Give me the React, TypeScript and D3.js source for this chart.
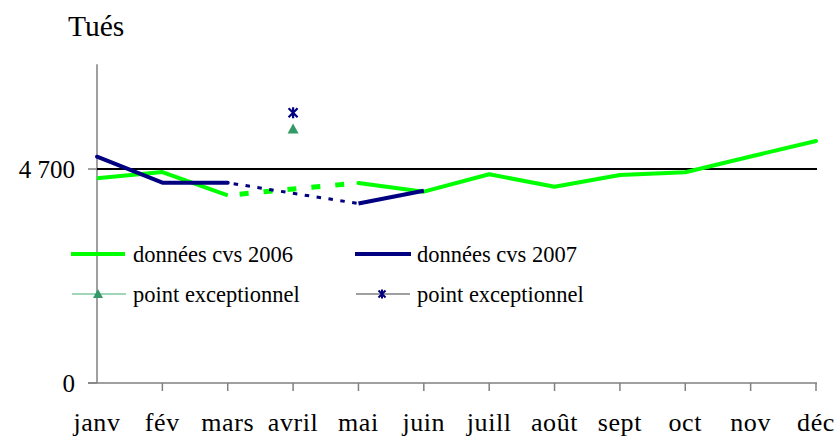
import React from "react";
import * as d3 from "d3";

const months = ["janv", "fév", "mars", "avril", "mai", "juin", "juill", "août", "sept", "oct", "nov", "déc"];
const serie2006 = [4496, 4634, 4123, 4261, 4393, 4202, 4584, 4311, 4568, 4628, 4975, 5315];
const serie2007 = [4970, 4399, 4399, 4166, 3942, 4224];
const dashedIdx = [2, 3, 4]; // mars -> mai in dashed
const exceptTriangle = { month: "avril", value: 5578 };
const exceptStar = { month: "avril", value: 5936 };
const yTicks = [0, 4700];
const refValue = 4700;

const W = 837, H = 437;
const FONT = "Liberation Serif, Times New Roman, serif";

export default function App() {
  const x = d3.scalePoint<string>().domain(months).range([97, 816]);
  const y = d3.scaleLinear().domain([0, 7000]).range([383, 64.3]);

  const line = d3.line<[string, number]>().x((d) => x(d[0])!).y((d) => y(d[1]));

  const g06 = serie2006.map((v, i) => [months[i], v] as [string, number]);
  const g07 = serie2007.map((v, i) => [months[i], v] as [string, number]);

  const solid06a = g06.slice(0, 3);
  const dash06 = g06.slice(dashedIdx[0], dashedIdx[2] + 1);
  const solid06b = g06.slice(4);
  const solid07a = g07.slice(0, 3);
  const dash07 = g07.slice(dashedIdx[0], dashedIdx[2] + 1);
  const solid07b = g07.slice(4);

  const green = "#00ff00";
  const navy = "#000080";
  const triColor = "#339966";
  const axisColor = "#808080";

  const star = (cx: number, cy: number, s = 4.5) =>
    `M${cx - s},${cy - s}L${cx + s},${cy + s}M${cx - s},${cy + s}L${cx + s},${cy - s}M${cx},${cy - s - 1}L${cx},${cy + s + 1}`;
  const tri = (cx: number, cy: number, s = 5.5) =>
    `M${cx},${cy - s}L${cx + s},${cy + s * 0.8}L${cx - s},${cy + s * 0.8}Z`;

  const txt = { fontFamily: FONT, fill: "#000" } as const;

  return (
    <svg width={W} height={H} style={{ position: "absolute", left: 0, top: 0, background: "#fff", fontFamily: FONT }}>
      <text x={68} y={36} style={{ ...txt, fontSize: 29.5 }}>Tués</text>

      {/* axes */}
      <line x1={97} x2={97} y1={y(7000)} y2={y(0)} stroke={axisColor} strokeWidth={1.5} />
      <line x1={88} x2={817} y1={y(0)} y2={y(0)} stroke={axisColor} strokeWidth={1.5} />
      {yTicks.map((t) => (
        <g key={t}>
          <line x1={88} x2={97} y1={y(t)} y2={y(t)} stroke={axisColor} strokeWidth={1.5} />
          <text x={75} y={y(t) + 8.5} textAnchor="end" style={{ ...txt, fontSize: 25 }}>
            {t === 0 ? "0" : d3.format(",")(t).replace(",", " ")}
          </text>
        </g>
      ))}
      {months.map((m) => (
        <g key={m}>
          {m !== months[0] && (
            <line x1={x(m)} x2={x(m)} y1={y(0)} y2={y(0) + 8} stroke={axisColor} strokeWidth={1.5} />
          )}
          <text x={x(m)} y={431} textAnchor="middle" style={{ ...txt, fontSize: 26, letterSpacing: 0.6 }}>{m}</text>
        </g>
      ))}

      {/* reference line */}
      <line x1={97} x2={817} y1={y(refValue)} y2={y(refValue)} stroke="#000" strokeWidth={2} />

      {/* 2006 */}
      <path d={line(solid06a)!} fill="none" stroke={green} strokeWidth={4} strokeLinejoin="round" />
      <path d={line(dash06)!} fill="none" stroke={green} strokeWidth={5} strokeDasharray="9,15" strokeDashoffset={-12} />
      <path d={line(solid06b)!} fill="none" stroke={green} strokeWidth={4} strokeLinejoin="round" strokeLinecap="round" />

      {/* 2007 */}
      <path d={line(solid07a)!} fill="none" stroke={navy} strokeWidth={4} strokeLinejoin="round" strokeLinecap="round" />
      <path d={line(dash07)!} fill="none" stroke={navy} strokeWidth={3} strokeDasharray="4.5,7.5" strokeDashoffset={-6} />
      <path d={line(solid07b)!} fill="none" stroke={navy} strokeWidth={4} strokeLinejoin="round" />

      {/* exceptional points */}
      <path d={tri(x(exceptTriangle.month)!, y(exceptTriangle.value))} fill={triColor} />
      <path d={star(x(exceptStar.month)!, y(exceptStar.value))} stroke={navy} strokeWidth={2.2} fill="none" />

      {/* legend */}
      <line x1={71} x2={125} y1={254} y2={254} stroke={green} strokeWidth={4} />
      <text x={133} y={261.5} style={{ ...txt, fontSize: 22.5 }}>données cvs 2006</text>
      <line x1={355} x2={411} y1={254} y2={254} stroke={navy} strokeWidth={4} />
      <text x={417} y={261.5} style={{ ...txt, fontSize: 22.5 }}>données cvs 2007</text>
      <line x1={72} x2={126} y1={294} y2={294} stroke="#7fc9a0" strokeWidth={1.5} />
      <path d={tri(98, 294, 5)} fill={triColor} />
      <text x={133} y={301.5} style={{ ...txt, fontSize: 22.5 }}>point exceptionnel</text>
      <line x1={356} x2={410} y1={294} y2={294} stroke={axisColor} strokeWidth={1.5} />
      <path d={star(382, 294, 3.5)} stroke={navy} strokeWidth={2} fill="none" />
      <text x={417} y={301.5} style={{ ...txt, fontSize: 22.5 }}>point exceptionnel</text>
    </svg>
  );
}
